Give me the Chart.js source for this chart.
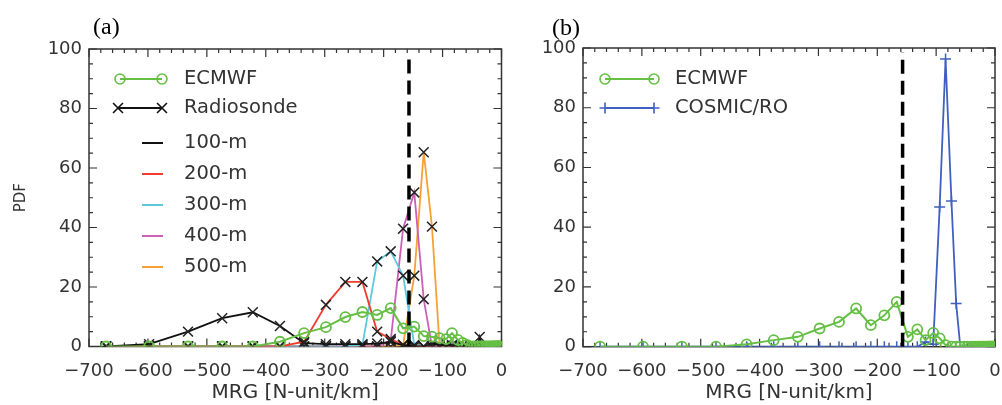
<!DOCTYPE html>
<html>
<head>
<meta charset="utf-8">
<script src="https://cdn.jsdelivr.net/npm/chart.js@4.4.1/dist/chart.umd.min.js"></script>
<style>
body { margin: 0; background: #fff; width: 1002px; height: 405px; overflow: hidden; position: relative; }
.panel { position: absolute; top: 0; height: 405px; }
#wa { left: 0; width: 510px; }
#wb { left: 510px; width: 492px; }
.tag { position: absolute; font-family: "Liberation Serif", serif; font-size: 24px; line-height: 24px; color: #000; }
</style>
</head>
<body>
<div class="panel" id="wa"><canvas id="ca" width="510" height="405"></canvas></div>
<div class="panel" id="wb"><canvas id="cb" width="492" height="405"></canvas></div>
<div class="tag" style="left:93px; top:14px;">(a)</div>
<div class="tag" style="left:552px; top:15px;">(b)</div>
<script>
// MRG bin centres (N-unit/km)
var mrg = [-671, -598, -532, -474, -422, -376, -335, -298, -265, -236, -211, -188, -167, -148, -132, -118,
           -105, -94, -84, -74, -66, -59, -52, -47, -41, -37, -33, -29, -26, -23, -20, -18, -16, -14, -12,
           -11, -10, -8, -7, -6, -5, -4, -3];

// panel (a)
var ecmwfA = [0, 0, 0, 0, 0, 1.6, 4.5, 6.5, 9.9, 11.6, 10.6, 12.9, 6.1, 6.7, 3.5, 3.3, 2.8, 2.5, 4.5, 2.2, 1.2, 0.5,
              0, 0, 0, 0, 0, 0, 0, 0, 0, 0, 0, 0, 0, 0, 0, 0, 0, 0, 0, 0, 0];
var rs100 = [0, 0.8, 5, 9.5, 11.5, 6.9, 1.1, 0.8, 0.8, 0.8, 1, 1.5, 0.5, 0, 0, 1, 0.5, 0.5, 0.5, 0, 0, 0, 0, 0, 0, 3.2, 0];
var rs200 = [0, 0, 0, 0, 0, 0, 1.6, 14, 21.7, 21.7, 5, 2.5, 0.5, 0, 0, 0, 0, 0, 0, 0, 0, 0, 0, 0, 0, 0, 0];
var rs300 = [0, 0, 0, 0, 0, 0, 0, 0, 0, 0.5, 28.6, 32, 23.8, 0.5, 0, 0, 0, 0, 0, 0, 0, 0, 0, 0, 0, 0, 0];
var rs400 = [0, 0, 0, 0, 0, 0, 0, 0, 0, 0, 0, 2, 39.6, 51.8, 15.9, 0, 0, 0, 0, 0, 0, 0, 0, 0, 0, 0, 0];
var rs500 = [0, 0, 0, 0, 0, 0, 0, 0, 0, 0, 0, 0, 0.5, 23.8, 65.3, 40.3, 0, 0, 0, 0, 0, 0, 0, 0, 0, 0, 0];

// panel (b)
var ecmwfB = [0, 0, 0, 0, 0.8, 2.2, 3.3, 6.1, 8.3, 12.8, 7.2, 10.5, 15.0, 3.3, 5.8, 2.2, 4.6, 2.8, 0.5, 0, 0, 0,
              0, 0, 0, 0, 0, 0, 0, 0, 0, 0, 0, 0, 0, 0, 0, 0, 0, 0, 0, 0, 0];
var cosmic = [0, 0, 0, 0, 0, 0, 0, 0, 0, 0, 0, 0, 0, 0, 0, 1.6, 0.8, 46.8, 96.3, 48.8, 14.5, 0,
              0, 0, 0, 0, 0, 0, 0, 0, 0, 0, 0, 0, 0, 0, 0, 0, 0, 0, 0, 0, 0];

// ducting threshold
var threshold = -157;
var xTicks = [-700, -600, -500, -400, -300, -200, -100, 0];
var yTicks = [0, 20, 40, 60, 80, 100];

var GREEN = '#66bf45', BLUE = '#4060c0', INK = '#333';
var resColors = ['#111111', '#f03c2c', '#5cc8dc', '#cc5fb8', '#f7a033'];
var resLabels = ['100-m', '200-m', '300-m', '400-m', '500-m'];

function pairs(xs, ys) {
  var out = [];
  for (var i = 0; i < ys.length; i++) out.push({x: xs[i], y: ys[i]});
  return out;
}

function dashed() {
  return {data: [{x: threshold, y: 0}, {x: threshold, y: 98.5}], borderColor: '#000', borderWidth: 3.5,
          borderDash: [14, 7], pointRadius: 0};
}

function ecmwfSet(vals) {
  return {data: pairs(mrg, vals), borderColor: GREEN, borderWidth: 2, pointStyle: 'circle', pointRadius: 5,
          pointBorderColor: GREEN, pointBackgroundColor: 'rgba(0,0,0,0)', pointBorderWidth: 1.8};
}

// box with inward ticks on all four sides
var frameTicks = {
  id: 'frameTicks',
  beforeDatasetsDraw: function(chart) {
    var ctx = chart.ctx, a = chart.chartArea, xs = chart.scales.x, ys = chart.scales.y;
    ctx.save();
    ctx.strokeStyle = INK;
    ctx.lineWidth = 1.5;
    ctx.strokeRect(a.left, a.top, a.right - a.left, a.bottom - a.top);
    ctx.lineWidth = 1.2;
    ctx.beginPath();
    for (var v = -700; v <= 0; v += 20) {
      var px = xs.getPixelForValue(v);
      var len = (v % 100 === 0) ? 8 : 4;
      ctx.moveTo(px, a.bottom); ctx.lineTo(px, a.bottom - len);
      ctx.moveTo(px, a.top); ctx.lineTo(px, a.top + len);
    }
    for (var w = 0; w <= 100; w += 5) {
      var py = ys.getPixelForValue(w);
      var l2 = (w % 20 === 0) ? 8 : 4;
      ctx.moveTo(a.left, py); ctx.lineTo(a.left + l2, py);
      ctx.moveTo(a.right, py); ctx.lineTo(a.right - l2, py);
    }
    ctx.stroke();
    ctx.restore();
  }
};

function marker(ctx, style, x, y, r) {
  ctx.beginPath();
  if (style === 'circle') {
    ctx.arc(x, y, r, 0, Math.PI * 2);
  } else if (style === 'crossRot') {
    var d = r * Math.SQRT1_2;
    ctx.moveTo(x - d, y - d); ctx.lineTo(x + d, y + d);
    ctx.moveTo(x - d, y + d); ctx.lineTo(x + d, y - d);
  } else {
    ctx.moveTo(x - r, y); ctx.lineTo(x + r, y);
    ctx.moveTo(x, y - r); ctx.lineTo(x, y + r);
  }
  ctx.stroke();
}

function legendPlugin(items) {
  return {
    id: 'boxLegend',
    afterDraw: function(chart) {
      var ctx = chart.ctx;
      ctx.save();
      items.forEach(function(it) {
        ctx.strokeStyle = it.color;
        ctx.lineWidth = 2;
        ctx.beginPath(); ctx.moveTo(it.x0, it.y); ctx.lineTo(it.x1, it.y); ctx.stroke();
        if (it.marker) {
          ctx.strokeStyle = it.mcolor;
          ctx.lineWidth = 1.6;
          marker(ctx, it.marker, it.x0, it.y, it.r);
          marker(ctx, it.marker, it.x1, it.y, it.r);
        }
        ctx.fillStyle = INK;
        ctx.font = '19.5px "DejaVu Sans"';
        ctx.textBaseline = 'middle';
        ctx.textAlign = 'left';
        ctx.fillText(it.label, it.tx, it.y);
      });
      ctx.restore();
    }
  };
}

function baseOptions(leftW, padTop, padRight, xH, showY) {
  return {
    responsive: false,
    animation: false,
    layout: {padding: {top: padTop, right: padRight, left: 0, bottom: 0}},
    plugins: {legend: {display: false}, tooltip: {enabled: false}},
    scales: {
      x: {
        type: 'linear', min: -700, max: 0,
        grid: {display: false, drawTicks: false}, border: {display: false},
        afterBuildTicks: function(s) { s.ticks = xTicks.map(function(v) { return {value: v}; }); },
        ticks: {padding: 14, color: INK, maxRotation: 0, autoSkip: false,
                font: {family: 'DejaVu Sans', size: 18},
                callback: function(v) { return v < 0 ? '\u2212' + Math.abs(v) : String(v); }},
        title: {display: true, text: 'MRG [N-unit/km]', color: INK,
                font: {family: 'DejaVu Sans', size: 20}, padding: {top: 0, bottom: 0}},
        afterFit: function(s) { s.height = xH; s.paddingLeft = 0; s.paddingRight = 0; }
      },
      y: {
        type: 'linear', min: 0, max: 100,
        grid: {display: false, drawTicks: false}, border: {display: false},
        afterBuildTicks: function(s) { s.ticks = yTicks.map(function(v) { return {value: v}; }); },
        ticks: {padding: 7, color: INK, font: {family: 'DejaVu Sans', size: 18}},
        title: {display: showY, text: 'PDF', color: INK,
                font: {family: 'DejaVu Sans', size: 15}, padding: {top: 12, bottom: 0}},
        afterFit: function(s) { s.width = leftW; }
      }
    }
  };
}

// panel (a)
var setsA = [dashed(), ecmwfSet(ecmwfA)];
[rs100, rs200, rs300, rs400, rs500].forEach(function(vals, i) {
  setsA.push({data: pairs(mrg, vals), borderColor: resColors[i], borderWidth: 1.8,
              pointStyle: 'crossRot', pointRadius: 7, pointBorderColor: '#222', pointBorderWidth: 1.5,
              pointBackgroundColor: 'rgba(0,0,0,0)'});
});

var legA = [
  {label: 'ECMWF', color: GREEN, x0: 120, x1: 162, y: 79, tx: 184, marker: 'circle', mcolor: GREEN, r: 5},
  {label: 'Radiosonde', color: '#111', x0: 118, x1: 162, y: 108, tx: 184, marker: 'crossRot', mcolor: '#111', r: 7}
];
resLabels.forEach(function(lab, i) {
  legA.push({label: lab, color: resColors[i], x0: 142, x1: 163, y: 143 + i * 31, tx: 184});
});

var chartA = new Chart(document.getElementById('ca'), {
  type: 'line',
  data: {datasets: setsA},
  options: baseOptions(89, 49, 7, 58.5, true),
  plugins: [frameTicks, legendPlugin(legA)]
});

// panel (b)
var setsB = [dashed(), ecmwfSet(ecmwfB),
  {data: pairs(mrg, cosmic), borderColor: BLUE, borderWidth: 1.8, pointStyle: 'cross', pointRadius: 5.5,
   pointBorderColor: BLUE, pointBorderWidth: 1.5, pointBackgroundColor: 'rgba(0,0,0,0)'}];

var legB = [
  {label: 'ECMWF', color: GREEN, x0: 95, x1: 144, y: 79, tx: 165, marker: 'circle', mcolor: GREEN, r: 5},
  {label: 'COSMIC/RO', color: BLUE, x0: 95, x1: 144, y: 108, tx: 165, marker: 'cross', mcolor: BLUE, r: 5.5}
];

var chartB = new Chart(document.getElementById('cb'), {
  type: 'line',
  data: {datasets: setsB},
  options: baseOptions(73, 48, 3, 58.3, false),
  plugins: [frameTicks, legendPlugin(legB)]
});
</script>
</body>
</html>
